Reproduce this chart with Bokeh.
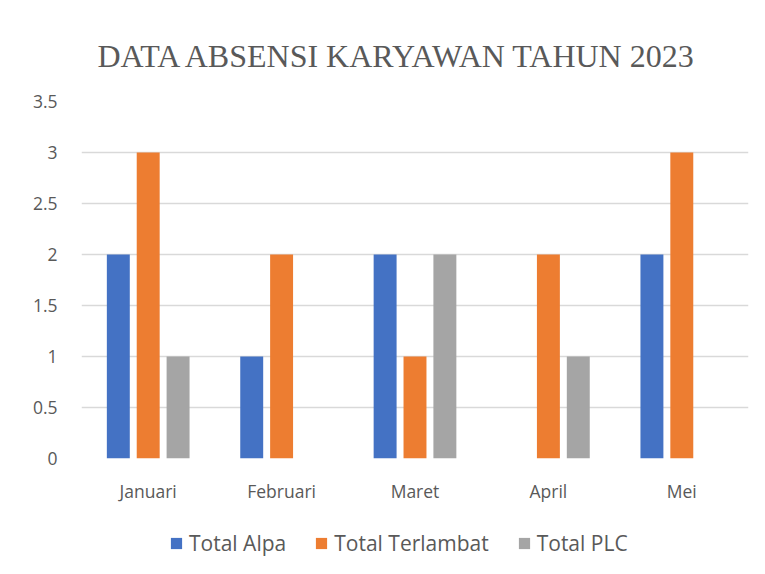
from bokeh.plotting import figure
from bokeh.layouts import column
from bokeh.models import ColumnDataSource, FactorRange, Legend, LegendItem, FixedTicker, CustomJSTickFormatter
from bokeh.transform import dodge
from bokeh.embed import file_html
from bokeh.resources import INLINE

months = ["Januari", "Februari", "Maret", "April", "Mei"]
total_alpa = [2, 1, 2, 0, 2]
total_terlambat = [3, 2, 1, 2, 3]
total_plc = [1, 0, 2, 1, 0]
series_names = ["Total Alpa", "Total Terlambat", "Total PLC"]
series_colors = ["#4472C4", "#ED7D31", "#A5A5A5"]
y_ticks = [0, 0.5, 1, 1.5, 2, 2.5, 3, 3.5]
title_text = "DATA ABSENSI KARYAWAN TAHUN 2023"

source = ColumnDataSource(data=dict(month=months, alpa=total_alpa,
                                    terlambat=total_terlambat, plc=total_plc))

p = figure(x_range=FactorRange(*months, range_padding=0), y_range=(0, 3.5),
           width=756, height=510, output_backend="svg", toolbar_location=None,
           min_border_left=81, min_border_right=8, min_border_top=101, min_border_bottom=52)
p.outline_line_color = None
p.background_fill_color = "white"
p.border_fill_color = "white"

p.title.text = title_text
p.title.align = "left"
p.title.offset = 16
p.title.standoff = 55
p.title.text_font = "Liberation Serif"
p.title.text_font_size = "32px"
p.title.text_font_style = "normal"
p.title.text_color = "#595959"

bw = 0.172
offs = [-0.224, 0.0, 0.224]
cols = ["alpa", "terlambat", "plc"]
for col, off, color in zip(cols, offs, series_colors):
    p.vbar(x=dodge("month", off, range=p.x_range), top=col, width=bw, source=source,
           fill_color=color, line_color=None)

p.xgrid.grid_line_color = None
p.ygrid.grid_line_color = "#d9d9d9"
p.ygrid.grid_line_width = 1.3
p.yaxis.ticker = FixedTicker(ticks=y_ticks)
p.yaxis.formatter = CustomJSTickFormatter(code="return tick.toString();")
for ax in (p.xaxis[0], p.yaxis[0]):
    ax.axis_line_color = None
    ax.major_tick_line_color = None
    ax.minor_tick_line_color = None
    ax.major_label_text_font = "Open Sans"
    ax.major_label_text_font_size = "17.5px"
    ax.major_label_text_color = "#595959"
p.yaxis.major_label_standoff = 24
p.xaxis.major_label_standoff = 20
p.xaxis.major_tick_in = 0
p.xaxis.major_tick_out = 0
p.yaxis.major_tick_in = 0
p.yaxis.major_tick_out = 0

# legend strip below the chart (its bars lie outside its view, only the legend shows)
p2 = figure(x_range=p.x_range, y_range=(10, 11), width=756, height=55, output_backend="svg",
            toolbar_location=None, min_border=0, x_axis_location=None, y_axis_location=None)
p2.grid.visible = False
p2.outline_line_color = None
p2.background_fill_color = "white"
p2.border_fill_color = "white"
swatches = []
for col, off, color in zip(cols, offs, series_colors):
    swatches.append(p2.vbar(x=dodge("month", off, range=p2.x_range), top=col, width=bw,
                            source=source, fill_color=color, line_color=None))

legend = Legend(items=[LegendItem(label=n, renderers=[r]) for n, r in zip(series_names, swatches)],
                orientation="horizontal", location=(88, 8),
                label_text_font="Open Sans", label_text_font_size="21px",
                label_text_color="#595959", glyph_width=14, glyph_height=14,
                label_standoff=6, spacing=28, border_line_color=None,
                background_fill_alpha=0, margin=0, padding=0)
p2.add_layout(legend)

layout = column(p, p2, spacing=0)
open("out.html", "w").write(file_html(layout, INLINE))
